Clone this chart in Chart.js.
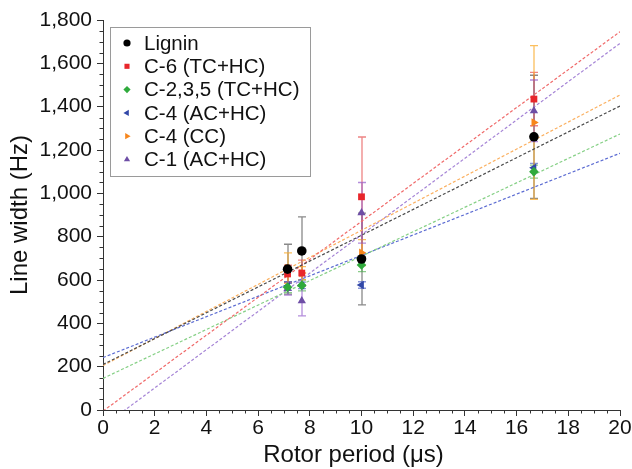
<!DOCTYPE html>
<html><head><meta charset="utf-8">
<script src="https://cdn.jsdelivr.net/npm/chart.js@4"></script>
<style>html,body{margin:0;padding:0;background:#fff}#wrap{width:632px;height:469px}</style>
</head><body><div id="wrap"><canvas id="c" width="632" height="469"></canvas></div>
<script>
// ---- data ----
const rotorPeriods = [7.14, 7.69, 10.0, 16.67];
const seriesNames = ['Lignin', 'C-6 (TC+HC)', 'C-2,3,5 (TC+HC)', 'C-4 (AC+HC)', 'C-4 (CC)', 'C-1 (AC+HC)'];

const ligninValues = [650, 734, 697, 1261];
const ligninErrors = [115, 157, 212, 284];
const c6Values = [628, 632, 984, 1435];
const c6Errors = [40, 60, 276, 123];
const c235Values = [567, 575, 669, 1100];
const c235Errors = [25, 25, 30, 30];
const c4acValues = [572, 575, 577, 1118];
const c4acErrors = [20, 15, 15, 20];
const c4ccValues = [655, 632, 726, 1327];
const c4ccErrors = [70, 30, 60, 355];
const c1Values = [560, 504, 910, 1381];
const c1Errors = [30, 70, 140, 142];

// fitted (dashed) lines: value read at x = 0 and at x = 20
const fitAtStart = [210, -5, 146, 242, 205, -75];
const fitAtEnd = [1403, 1746, 1274, 1185, 1454, 1692];
const fitRange = [0, 20];

const xTickValues = [0, 2, 4, 6, 8, 10, 12, 14, 16, 18, 20];
const yTickValues = [0, 200, 400, 600, 800, 1000, 1200, 1400, 1600, 1800];
const xMinorStep = 0.5;
const yMinorStep = 50;
const xAxisTitle = 'Rotor period (μs)';
const yAxisTitle = 'Line width (Hz)';

// ---- styles ----
const pointColors = ['#000000', '#e8262b', '#2faa3c', '#3248a8', '#f7861c', '#6e4ea6'];
const errorColors = ['rgba(40,40,40,0.55)', 'rgba(225,50,50,0.6)', 'rgba(60,170,60,0.6)', 'rgba(60,80,190,0.6)', 'rgba(250,170,40,0.75)', 'rgba(140,80,200,0.65)'];
const fitColors = ['#4a4a4a', '#f06a6a', '#86d086', '#5b6bd2', '#fbb060', '#a584d6'];
const pointStyles = ['circle', 'rect', 'rectRot', 'triangle', 'triangle', 'triangle'];
const pointRotations = [0, 0, 0, -90, 90, 0];

const valueSets = [ligninValues, c6Values, c235Values, c4acValues, c4ccValues, c1Values];
const errorSets = [ligninErrors, c6Errors, c235Errors, c4acErrors, c4ccErrors, c1Errors];

const FONT = '"Liberation Sans", Arial, Helvetica, sans-serif';

const datasets = [];
seriesNames.forEach((name, s) => {
  datasets.push({
    type: 'scatter',
    label: name,
    data: rotorPeriods.map((x, i) => ({ x: x, y: valueSets[s][i], err: errorSets[s][i] })),
    backgroundColor: pointColors[s],
    borderColor: pointColors[s],
    borderWidth: 0,
    pointStyle: pointStyles[s],
    rotation: pointRotations[s],
    pointRadius: 4.8,
    pointHoverRadius: 4.8,
    errColor: errorColors[s],
    order: 1
  });
});
seriesNames.forEach((name, s) => {
  datasets.push({
    type: 'line',
    label: name + ' fit',
    isFit: true,
    data: [{ x: fitRange[0], y: fitAtStart[s] }, { x: fitRange[1], y: fitAtEnd[s] }],
    borderColor: fitColors[s],
    borderWidth: 1.2,
    borderDash: [3, 2],
    pointRadius: 0,
    fill: false,
    order: 20
  });
});

const errorBarPlugin = {
  id: 'errorBars',
  beforeDatasetsDraw(chart) {
    const { ctx, scales: { x, y } } = chart;
    ctx.save();
    chart.data.datasets.forEach((ds) => {
      if (ds.isFit) return;
      ctx.strokeStyle = ds.errColor;
      ctx.lineWidth = 1.3;
      ds.data.forEach((p) => {
        const px = Math.round(x.getPixelForValue(p.x));
        const top = y.getPixelForValue(p.y + p.err);
        const bot = y.getPixelForValue(p.y - p.err);
        ctx.beginPath();
        ctx.moveTo(px, top); ctx.lineTo(px, bot);
        ctx.moveTo(px - 4, top); ctx.lineTo(px + 4, top);
        ctx.moveTo(px - 4, bot); ctx.lineTo(px + 4, bot);
        ctx.stroke();
      });
    });
    ctx.restore();
  }
};

const minorTickPlugin = {
  id: 'minorTicks',
  afterDraw(chart) {
    const { ctx, chartArea: a, scales: { x, y } } = chart;
    ctx.save();
    ctx.strokeStyle = '#333';
    ctx.lineWidth = 1;
    ctx.beginPath();
    for (let v = x.min; v <= x.max + 1e-9; v += xMinorStep) {
      if (xTickValues.some(t => Math.abs(t - v) < 1e-9)) continue;
      const px = Math.round(x.getPixelForValue(v)) + 0.5;
      ctx.moveTo(px, a.bottom); ctx.lineTo(px, a.bottom + 3.5);
    }
    for (let v = y.min; v <= y.max + 1e-9; v += yMinorStep) {
      if (yTickValues.some(t => Math.abs(t - v) < 1e-9)) continue;
      const py = Math.round(y.getPixelForValue(v)) + 0.5;
      ctx.moveTo(a.left, py); ctx.lineTo(a.left - 3.5, py);
    }
    ctx.stroke();
    // x-axis title, slightly left of the plot centre as in the original
    ctx.fillStyle = '#111';
    ctx.font = '24px ' + FONT;
    ctx.textAlign = 'center';
    ctx.textBaseline = 'middle';
    ctx.fillText(xAxisTitle, (a.left + a.right) / 2 - 8, 455);
    ctx.restore();
  }
};

const legendPlugin = {
  id: 'boxLegend',
  afterDraw(chart) {
    const { ctx } = chart;
    const bx = 110, by = 27, bw = 200, bh = 149;
    ctx.save();
    ctx.fillStyle = '#fff';
    ctx.fillRect(bx, by, bw, bh);
    ctx.strokeStyle = '#9a9a9a';
    ctx.lineWidth = 1;
    ctx.strokeRect(bx + 0.5, by + 0.5, bw, bh);
    ctx.font = '20.5px ' + FONT;
    ctx.textBaseline = 'middle';
    ctx.textAlign = 'left';
    chart.data.datasets.filter(d => !d.isFit).forEach((ds, i) => {
      const cy = by + 16 + i * 23.3;
      ctx.fillStyle = ds.backgroundColor;
      ctx.strokeStyle = ds.backgroundColor;
      Chart.helpers.drawPoint(ctx, { pointStyle: ds.pointStyle, rotation: ds.rotation, radius: 3.6, borderWidth: 0 }, 127, cy);
      ctx.fillStyle = '#111';
      ctx.fillText(ds.label, 144, cy + 1);
    });
    ctx.restore();
  }
};

new Chart(document.getElementById('c'), {
  data: { datasets: datasets },
  options: {
    responsive: false,
    devicePixelRatio: 1,
    animation: false,
    layout: { padding: { top: 20, right: 12, left: 0, bottom: 0 } },
    plugins: { legend: { display: false }, tooltip: { enabled: false } },
    scales: {
      x: {
        type: 'linear',
        min: 0, max: 20,
        afterBuildTicks: (s) => { s.ticks = xTickValues.map(v => ({ value: v })); },
        afterFit: (s) => { s.height = 59; s.paddingLeft = 0; s.paddingRight = 0; },
        ticks: { font: { family: FONT, size: 21 }, color: '#111', padding: 0, maxRotation: 0 },
        grid: { display: true, drawOnChartArea: false, drawTicks: true, tickLength: 6, color: '#333' },
        border: { display: true, color: '#333', width: 1 },
        title: { display: false }
      },
      y: {
        type: 'linear',
        min: 0, max: 1800,
        afterBuildTicks: (s) => { s.ticks = yTickValues.map(v => ({ value: v })); },
        afterFit: (s) => { s.width = 103; s.paddingTop = 0; s.paddingBottom = 0; },
        ticks: { font: { family: FONT, size: 21 }, color: '#111', padding: 5 },
        grid: { display: true, drawOnChartArea: false, drawTicks: true, tickLength: 6, color: '#333' },
        border: { display: true, color: '#333', width: 1 },
        title: { display: true, text: yAxisTitle, font: { family: FONT, size: 24 }, color: '#111', padding: { top: 6, bottom: 4 } }
      }
    }
  },
  plugins: [errorBarPlugin, minorTickPlugin, legendPlugin]
});
</script>
</body></html>
